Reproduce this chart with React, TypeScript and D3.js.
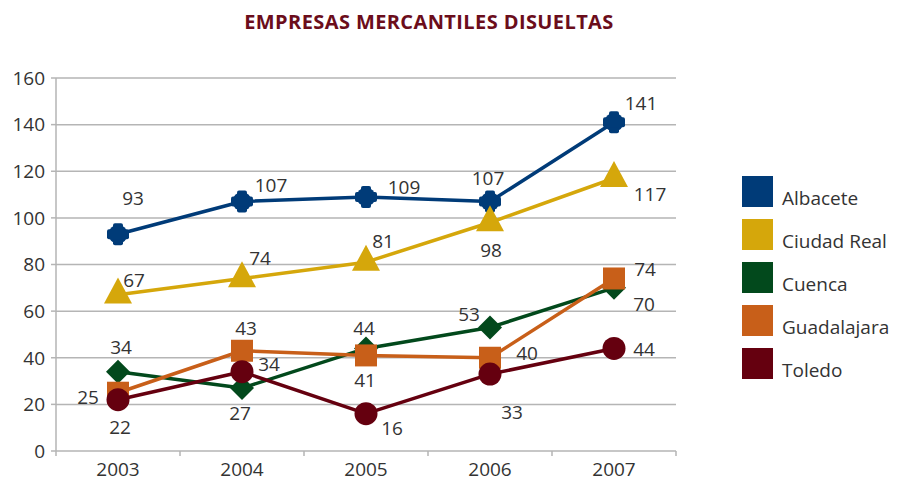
import React from "react";
import * as d3 from "d3";

const years = ["2003", "2004", "2005", "2006", "2007"];
const seriesNames = ["Albacete", "Ciudad Real", "Cuenca", "Guadalajara", "Toledo"];
const albacete = [93, 107, 109, 107, 141];
const ciudadReal = [67, 74, 81, 98, 117];
const cuenca = [34, 27, 44, 53, 70];
const guadalajara = [25, 43, 41, 40, 74];
const toledo = [22, 34, 16, 33, 44];
const yTicks = [0, 20, 40, 60, 80, 100, 120, 140, 160];

const colors = ["#003b78", "#d5a70b", "#02491c", "#c85f19", "#65000f"];
const shapes = ["cross", "triangle", "diamond", "square", "circle"];
// label offsets (dx, dy) relative to marker, per series
const labelOffsets = [
  [[15, -36], [29, -16], [38, -10], [-2, -23], [27, -19]],
  [[16, -15], [18, -20], [17, -21], [1, 28], [36, 16]],
  [[3, -25], [-2, 25], [-2, -20], [-21, -13], [30, 16]],
  [[-30, 4], [4, -23], [-1, 25], [37, -5], [31, -9]],
  [[2, 27], [27, -8], [26, 14], [22, 38], [30, 1]],
];

const W = 897, H = 481;
const margin = { left: 56, right: 221, top: 78, bottom: 30 };
const FONT = "'Open Sans', Lato, sans-serif";

function marker(shape: string, color: string) {
  switch (shape) {
    case "cross": {
      const a = 11, w = 5;
      return (
        <g fill={color}>
          <circle r={9.5} />
          <rect x={-w} y={-a} width={2 * w} height={2 * a} rx={2} />
          <rect x={-a} y={-w} width={2 * a} height={2 * w} rx={2} />
        </g>
      );
    }
    case "triangle": {
      const s = 28, h = 26;
      return <path d={`M0,${-h * 2 / 3}L${s / 2},${h / 3}L${-s / 2},${h / 3}Z`} fill={color} />;
    }
    case "diamond": {
      const r = 12;
      return <path d={`M0,${-r}L${r},0L0,${r}L${-r},0Z`} fill={color} />;
    }
    case "square":
      return <rect x={-11} y={-11} width={22} height={22} fill={color} />;
    default:
      return <circle r={11.5} fill={color} />;
  }
}

export default function App() {
  const allSeries = [albacete, ciudadReal, cuenca, guadalajara, toledo];
  const x = d3.scaleBand().domain(years).range([margin.left, W - margin.right]);
  const y = d3.scaleLinear().domain([0, 160]).range([H - margin.bottom, margin.top]);
  const cx = (yr: string) => (x(yr) as number) + x.bandwidth() / 2;
  const line = d3.line<number>().x((_, i) => cx(years[i])).y((d) => y(d));
  const x0 = margin.left, x1 = W - margin.right, yB = y(0);

  return (
    <svg width={W} height={H} style={{ position: "absolute", left: 0, top: 0, background: "#fff" }} fontFamily={FONT}>
      <text x={429} y={29} textAnchor="middle" fontSize={20} fontWeight={700} fill="#6b0d1b" letterSpacing={0.4}>
        EMPRESAS MERCANTILES DISUELTAS
      </text>
      {yTicks.map((t) => (
        <g key={t}>
          {t > 0 && <line x1={x0} x2={x1} y1={y(t)} y2={y(t)} stroke="#b5b5b5" strokeWidth={1.5} />}
          <line x1={x0 - 5} x2={x0} y1={y(t)} y2={y(t)} stroke="#b5b5b5" strokeWidth={1.5} />
          <text x={45} y={y(t)} dy="0.36em" textAnchor="end" fontSize={19} fill="#333">{t}</text>
        </g>
      ))}
      <line x1={x0} x2={x0} y1={y(160)} y2={yB} stroke="#b5b5b5" strokeWidth={1.5} />
      <line x1={x0} x2={x1} y1={yB} y2={yB} stroke="#b5b5b5" strokeWidth={1.5} />
      {years.map((yr) => (
        <g key={yr}>
          <line x1={x(yr) as number} x2={x(yr) as number} y1={yB} y2={yB + 5} stroke="#b5b5b5" strokeWidth={1.5} />
          <text x={cx(yr)} y={476} textAnchor="middle" fontSize={19} fill="#333">{yr}</text>
        </g>
      ))}
      <line x1={x1} x2={x1} y1={yB} y2={yB + 5} stroke="#b5b5b5" strokeWidth={1.5} />
      {allSeries.map((s, si) => (
        <g key={si}>
          <path d={line(s) || ""} fill="none" stroke={colors[si]} strokeWidth={3.5} strokeLinejoin="round" />
          {s.map((v, i) => (
            <g key={i} transform={`translate(${cx(years[i])},${y(v)})`}>{marker(shapes[si], colors[si])}</g>
          ))}
        </g>
      ))}
      {allSeries.map((s, si) =>
        s.map((v, i) => (
          <text key={`${si}-${i}`} x={cx(years[i]) + labelOffsets[si][i][0]} y={y(v) + labelOffsets[si][i][1]} dy="0.36em"
            textAnchor="middle" fontSize={19} fill="#333">{v}</text>
        ))
      )}
      {seriesNames.map((n, i) => (
        <g key={n} transform={`translate(742,${176 + i * 43})`}>
          <rect width={31} height={31} fill={colors[i]} />
          <text x={40} y={29} fontSize={19} fill="#333">{n}</text>
        </g>
      ))}
    </svg>
  );
}
